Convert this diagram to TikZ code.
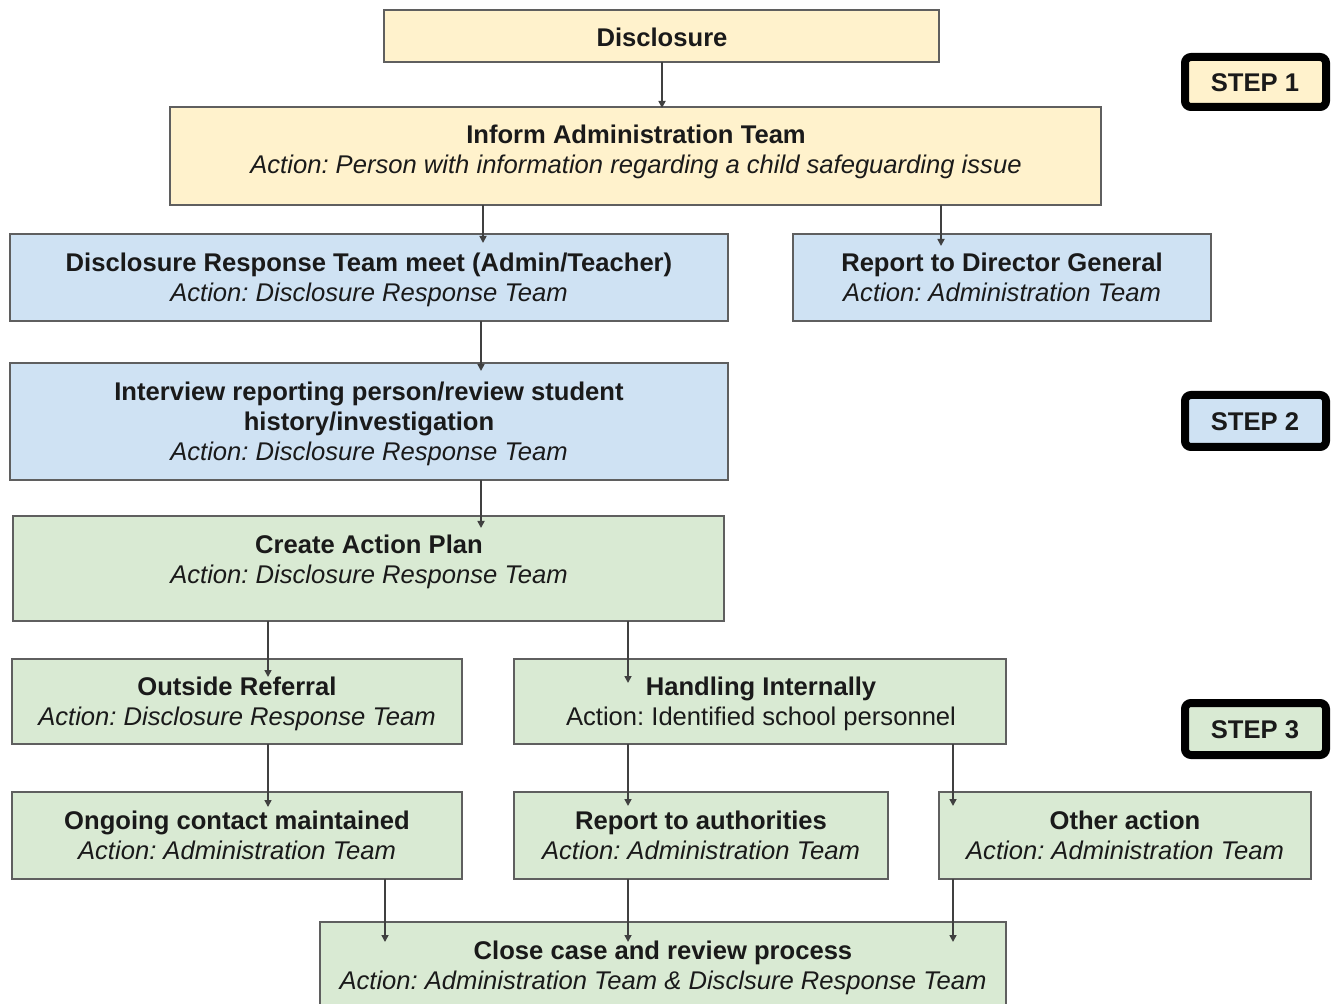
\documentclass[tikz,border=0pt]{standalone}
\usepackage{fontspec}
\setmainfont{Liberation Sans}
\usetikzlibrary{arrows.meta,fit,calc}
\definecolor{cyel}{HTML}{FFF2CC}
\definecolor{cblu}{HTML}{CFE2F3}
\definecolor{cgrn}{HTML}{D9EAD3}
\definecolor{cbor}{HTML}{5F5F5F}
\definecolor{ctxt}{HTML}{1A1A1A}
\frenchspacing
\begin{document}
\begin{tikzpicture}[x=0.5pt,y=-0.5pt,
 box/.style={draw=cbor,line width=0.9pt,inner sep=0pt,outer sep=0pt},
 stepbox/.style={draw=black,line width=4pt,rounded corners=3pt,inner sep=0pt,outer sep=0pt},
 txt/.style={align=center,inner sep=0pt,text=ctxt,font=\fontsize{12.8}{15}\selectfont\frenchspacing},
 arr/.style={draw=black!75,line width=0.8pt,-{Triangle[length=3.5pt,width=3.5pt]}}]
\useasboundingbox (0,0) rectangle (1332,1004);

% boxes
\node[box,fill=cyel,fit={(384,10) (939,62)}] (disc) {};
\node[box,fill=cyel,fit={(170,107) (1101,205)}] (inform) {};
\node[box,fill=cblu,fit={(10,234) (728,321)}] (drt) {};
\node[box,fill=cblu,fit={(793,234) (1211,321)}] (dg) {};
\node[box,fill=cblu,fit={(10,363) (728,480)}] (interview) {};
\node[box,fill=cgrn,fit={(13,516) (724,621)}] (plan) {};
\node[box,fill=cgrn,fit={(12,659) (462,744)}] (outside) {};
\node[box,fill=cgrn,fit={(514,659) (1006,744)}] (handling) {};
\node[box,fill=cgrn,fit={(12,792) (462,879)}] (ongoing) {};
\node[box,fill=cgrn,fit={(514,792) (888,879)}] (authorities) {};
\node[box,fill=cgrn,fit={(939,792) (1311,879)}] (other) {};
\node[box,fill=cgrn,fit={(320,922) (1006,1014)}] (close) {};

\node[stepbox,fill=cyel,fit={(1185,57) (1326,107)}] (s1) {};
\node[stepbox,fill=cblu,fit={(1185,395) (1326,447)}] (s2) {};
\node[stepbox,fill=cgrn,fit={(1185,703) (1326,755)}] (s3) {};

% texts
\node[txt] (t-disc) at (662,41) {\strut\textbf{Disclosure}};
\node[txt] (t-inform) at (636,153) {\strut\textbf{Inform Administration Team}\\\strut\textit{Action: Person with information regarding a child safeguarding issue}};
\node[txt] (t-drt) at (369,280.5) {\strut\textbf{Disclosure Response Team meet (Admin/Teacher)}\\\strut\textit{Action: Disclosure Response Team}};
\node[txt] (t-dg) at (1002,280.5) {\strut\textbf{Report to Director General}\\\strut\textit{Action: Administration Team}};
\node[txt] (t-interview) at (369,424.5) {\strut\textbf{Interview reporting person/review student}\\\strut\textbf{history/investigation}\\\strut\textit{Action: Disclosure Response Team}};
\node[txt] (t-plan) at (369,563) {\strut\textbf{Create Action Plan}\\\strut\textit{Action: Disclosure Response Team}};
\node[txt] (t-outside) at (237,704) {\strut\textbf{Outside Referral}\\\strut\textit{Action: Disclosure Response Team}};
\node[txt] (t-handling) at (761,704.5) {\strut\textbf{Handling Internally}\\\strut Action: Identified school personnel};
\node[txt] (t-ongoing) at (237,838.5) {\strut\textbf{Ongoing contact maintained}\\\strut\textit{Action: Administration Team}};
\node[txt] (t-authorities) at (701,838.5) {\strut\textbf{Report to authorities}\\\strut\textit{Action: Administration Team}};
\node[txt] (t-other) at (1125,838.5) {\strut\textbf{Other action}\\\strut\textit{Action: Administration Team}};
\node[txt] (t-close) at (663,968.5) {\strut\textbf{Close case and review process}\\\strut\textit{Action: Administration Team \& Disclsure Response Team}};

\node[txt] (t-s1) at (1255,86) {\strut\textbf{STEP 1}};
\node[txt] (t-s2) at (1255,425) {\strut\textbf{STEP 2}};
\node[txt] (t-s3) at (1255,732) {\strut\textbf{STEP 3}};

% column coordinates
\coordinate (c268) at (268,0);
\coordinate (c385) at (385,0);
\coordinate (c481) at (481,0);
\coordinate (c483) at (483,0);
\coordinate (c628) at (628,0);
\coordinate (c662) at (662,0);
\coordinate (c941) at (941,0);
\coordinate (c953) at (953,0);

% connectors
\draw[arr] (disc.south -| c662) -- ($(inform.north -| c662)+(0,1)$);
\draw[arr] (inform.south -| c483) -- ($(drt.north -| c483)+(0,9)$);
\draw[arr] (inform.south -| c941) -- ($(dg.north -| c941)+(0,12)$);
\draw[arr] (drt.south -| c481) -- ($(interview.north -| c481)+(0,8)$);
\draw[arr] (interview.south -| c481) -- ($(plan.north -| c481)+(0,12)$);
\draw[arr] (plan.south -| c268) -- ($(outside.north -| c268)+(0,18)$);
\draw[arr] (plan.south -| c628) -- ($(handling.north -| c628)+(0,24)$);
\draw[arr] (outside.south -| c268) -- ($(ongoing.north -| c268)+(0,15)$);
\draw[arr] (handling.south -| c628) -- ($(authorities.north -| c628)+(0,14)$);
\draw[arr] (handling.south -| c953) -- ($(other.north -| c953)+(0,14)$);
\draw[arr] (ongoing.south -| c385) -- ($(close.north -| c385)+(0,20)$);
\draw[arr] (authorities.south -| c628) -- ($(close.north -| c628)+(0,20)$);
\draw[arr] (other.south -| c953) -- ($(close.north -| c953)+(0,20)$);
\end{tikzpicture}
\end{document}
